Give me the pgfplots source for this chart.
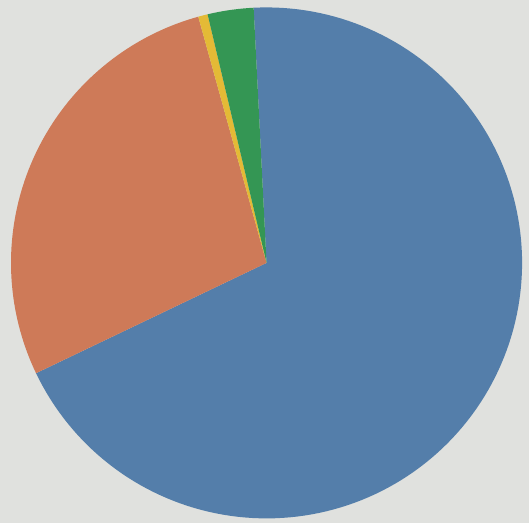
\documentclass[border=0pt]{standalone}
\usepackage{pgfplots}
\pgfplotsset{compat=1.18}
\definecolor{bg}{RGB}{224,225,222}
\definecolor{cblue}{RGB}{84,126,170}
\definecolor{corange}{RGB}{206,122,88}
\definecolor{cyellow}{RGB}{228,186,54}
\definecolor{cgreen}{RGB}{52,150,84}
% shares in percent (blue, orange, yellow, green), clockwise from the start angle
\def\vA{68.7}
\def\vB{27.8}
\def\vC{0.6}
\def\vD{2.9}
\def\startangle{92.9}
\begin{document}
\begin{tikzpicture}
\pgfmathsetmacro{\aA}{\startangle}
\pgfmathsetmacro{\aB}{\aA-\vA*3.6}
\pgfmathsetmacro{\aC}{\aB-\vB*3.6}
\pgfmathsetmacro{\aD}{\aC-\vC*3.6}
\pgfmathsetmacro{\aE}{\aD-\vD*3.6}
\begin{axis}[width=529bp, height=523bp, scale only axis,
  xmin=-1.043, xmax=1.027, ymin=-1.018, ymax=1.029,
  axis line style={draw=none}, ticks=none,
  axis background/.style={fill=bg}]
\addplot[fill=cblue, draw=none, domain=\aB:\aA, samples=150] ({cos(x)},{sin(x)}) -- (axis cs:0,0) -- cycle;
\addplot[fill=corange, draw=none, domain=\aC:\aB, samples=80] ({cos(x)},{sin(x)}) -- (axis cs:0,0) -- cycle;
\addplot[fill=cyellow, draw=none, domain=\aD:\aC, samples=5] ({cos(x)},{sin(x)}) -- (axis cs:0,0) -- cycle;
\addplot[fill=cgreen, draw=none, domain=\aE:\aD, samples=10] ({cos(x)},{sin(x)}) -- (axis cs:0,0) -- cycle;
\end{axis}
\end{tikzpicture}
\end{document}
